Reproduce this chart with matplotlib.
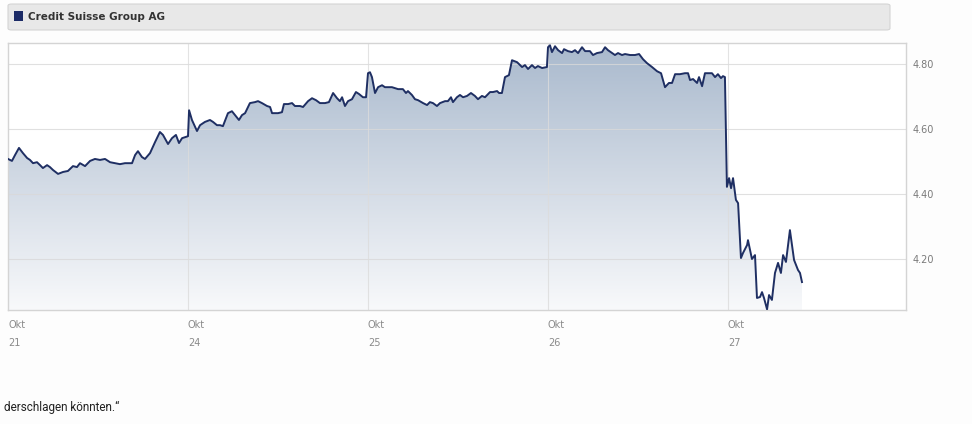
import numpy as np
import matplotlib.pyplot as plt
from matplotlib.patches import FancyBboxPatch, Rectangle, Polygon
from matplotlib.colors import LinearSegmentedColormap

# position in trading days (0 = 21 Okt open) and price in EUR
t = [0.000, 0.022, 0.039, 0.061, 0.083, 0.106, 0.122, 0.139, 0.161, 0.178,
     0.194, 0.217, 0.233, 0.250, 0.278, 0.306, 0.333, 0.361, 0.383, 0.400,
     0.428, 0.456, 0.483, 0.511, 0.539, 0.567, 0.594, 0.622, 0.650, 0.689,
     0.706, 0.722, 0.744, 0.761, 0.789, 0.817, 0.844, 0.861, 0.889, 0.911,
     0.933, 0.950, 0.967, 0.983, 1.000,
     1.006, 1.022, 1.050, 1.067, 1.094, 1.122, 1.139, 1.161, 1.178, 1.194,
     1.222, 1.244, 1.261, 1.283, 1.300, 1.317, 1.344, 1.372, 1.389, 1.411,
     1.439, 1.456, 1.467, 1.500, 1.522, 1.533, 1.556, 1.578, 1.594, 1.622,
     1.639, 1.667, 1.689, 1.711, 1.733, 1.761, 1.783, 1.806, 1.828, 1.844,
     1.856, 1.872, 1.889, 1.911, 1.933, 1.950, 1.972, 1.989, 2.000, 2.011,
     2.022, 2.039, 2.056, 2.078, 2.094, 2.111, 2.133, 2.150, 2.167, 2.194,
     2.211, 2.222, 2.244, 2.261, 2.278, 2.306, 2.328, 2.344, 2.361, 2.383,
     2.400, 2.428, 2.444, 2.461, 2.472, 2.494, 2.511, 2.528, 2.550, 2.572,
     2.594, 2.611, 2.633, 2.650, 2.678, 2.694, 2.717, 2.728, 2.744, 2.761,
     2.783, 2.800, 2.828, 2.856, 2.872, 2.889, 2.911, 2.928, 2.944, 2.967,
     2.994, 3.000,
     3.011, 3.022, 3.039, 3.056, 3.078, 3.089, 3.111, 3.133, 3.150, 3.167,
     3.189, 3.206, 3.233, 3.250, 3.272, 3.300, 3.317, 3.333, 3.356, 3.372,
     3.389, 3.411, 3.428, 3.456, 3.483, 3.506, 3.528, 3.550, 3.578, 3.606,
     3.628, 3.650, 3.672, 3.689, 3.706, 3.733, 3.761, 3.778, 3.789, 3.806,
     3.828, 3.839, 3.856, 3.872, 3.889, 3.911, 3.928, 3.944, 3.961, 3.972,
     3.983,
     3.994, 4.006, 4.017, 4.028, 4.033, 4.044, 4.056, 4.072, 4.083, 4.106,
     4.111, 4.133, 4.150, 4.161, 4.178, 4.189, 4.200, 4.217, 4.228, 4.244,
     4.261, 4.278, 4.294, 4.306, 4.322, 4.344, 4.367, 4.389, 4.400, 4.411]

price = [4.508, 4.502, 4.520, 4.542, 4.526, 4.511, 4.505, 4.495, 4.498, 4.489,
         4.480, 4.489, 4.483, 4.474, 4.462, 4.468, 4.471, 4.486, 4.483, 4.495,
         4.486, 4.502, 4.508, 4.505, 4.508, 4.498, 4.495, 4.492, 4.495, 4.495,
         4.520, 4.532, 4.514, 4.508, 4.526, 4.560, 4.591, 4.582, 4.554, 4.572,
         4.582, 4.557, 4.572, 4.575, 4.578,
         4.658, 4.628, 4.594, 4.612, 4.622, 4.628, 4.622, 4.612, 4.612, 4.609,
         4.649, 4.655, 4.643, 4.628, 4.643, 4.649, 4.680, 4.683, 4.686, 4.680,
         4.671, 4.668, 4.649, 4.649, 4.652, 4.677, 4.677, 4.680, 4.671, 4.671,
         4.668, 4.686, 4.695, 4.689, 4.680, 4.680, 4.683, 4.711, 4.695, 4.686,
         4.698, 4.671, 4.686, 4.692, 4.714, 4.708, 4.698, 4.698, 4.772, 4.775,
         4.760, 4.711, 4.729, 4.735, 4.729, 4.729, 4.729, 4.726, 4.723, 4.723,
         4.711, 4.717, 4.705, 4.692, 4.689, 4.680, 4.674, 4.683, 4.680, 4.671,
         4.680, 4.686, 4.686, 4.698, 4.683, 4.698, 4.705, 4.698, 4.702, 4.711,
         4.702, 4.692, 4.702, 4.698, 4.714, 4.714, 4.717, 4.711, 4.711, 4.760,
         4.766, 4.812, 4.806, 4.791, 4.797, 4.785, 4.797, 4.788, 4.794, 4.788,
         4.791, 4.852,
         4.858, 4.837, 4.855, 4.843, 4.834, 4.846, 4.840, 4.837, 4.843, 4.834,
         4.852, 4.840, 4.840, 4.828, 4.834, 4.837, 4.852, 4.843, 4.834, 4.828,
         4.834, 4.828, 4.831, 4.828, 4.828, 4.831, 4.815, 4.803, 4.791, 4.778,
         4.772, 4.729, 4.742, 4.742, 4.769, 4.769, 4.772, 4.772, 4.751, 4.754,
         4.742, 4.760, 4.732, 4.772, 4.772, 4.772, 4.760, 4.769, 4.757, 4.763,
         4.760,
         4.422, 4.449, 4.418, 4.449, 4.428, 4.382, 4.372, 4.203, 4.218, 4.243,
         4.258, 4.200, 4.212, 4.080, 4.083, 4.098, 4.080, 4.045, 4.089, 4.074,
         4.157, 4.188, 4.157, 4.212, 4.191, 4.289, 4.197, 4.166, 4.157, 4.129]

day_labels = ["21", "24", "25", "26", "27"]
month_label = "Okt"
y_ticks = [4.20, 4.40, 4.60, 4.80]
title = "Credit Suisse Group AG"
footer = "derschlagen könnten.\u201c"

W, H = 972, 424
fig = plt.figure(figsize=(W / 100, H / 100), dpi=100)
fig.patch.set_facecolor("#fdfdfd")

# header bar
hdr = FancyBboxPatch((8 / W, 1 - 30 / H), 882 / W, 26 / H,
                     boxstyle="round,pad=0,rounding_size=0.004",
                     transform=fig.transFigure, facecolor="#e8e8e8",
                     edgecolor="#d4d4d4", linewidth=0.8)
fig.patches.append(hdr)
fig.patches.append(Rectangle((14 / W, 1 - 21 / H), 9 / W, 10 / H,
                             transform=fig.transFigure, facecolor="#1b2a66",
                             edgecolor="none"))
fig.text(28 / W, 1 - 16.5 / H, title, fontsize=7.5, fontweight="bold",
         color="#333333", va="center", ha="left", family="DejaVu Sans")

ax = fig.add_axes([8 / W, 1 - 310 / H, 898 / W, 267 / H])
ax.set_facecolor("white")
x0, x1 = 0, 898 / 180
y0, y1 = 4.043, 4.865
ax.set_xlim(x0, x1)
ax.set_ylim(y0, y1)

# gradient fill under the line
grad = LinearSegmentedColormap.from_list("g", ["#f8f9fb", "#a9b9cd"])
img = ax.imshow(np.linspace(0, 1, 256).reshape(-1, 1), cmap=grad,
                extent=[x0, x1, y0, y1], origin="lower", aspect="auto",
                zorder=1)
poly = Polygon(np.column_stack([[t[0]] + t + [t[-1]],
                                [y0] + price + [y0]]),
               closed=True, facecolor="none", edgecolor="none")
ax.add_patch(poly)
img.set_clip_path(poly)

for y in y_ticks:
    ax.axhline(y, color="#d9d9d9", lw=0.8, zorder=2, alpha=0.8)
for d in range(1, 5):
    ax.axvline(d, color="#dcdcdc", lw=0.8, zorder=2, alpha=0.8)

ax.plot(t, price, color="#1f2f63", lw=1.4, zorder=3, solid_joinstyle="round")

for s in ax.spines.values():
    s.set_color("#d4d4d4")
    s.set_linewidth(1)

ax.yaxis.tick_right()
ax.set_yticks(y_ticks)
ax.set_yticklabels([f"{v:.2f}" for v in y_ticks])
ax.tick_params(axis="y", length=0, pad=5, labelsize=7, labelcolor="#7a7a7a")
ax.set_xticks([])

for i, lab in enumerate(day_labels):
    ax.text(i, -0.055, month_label, transform=ax.get_xaxis_transform(),
            ha="left", va="center", fontsize=7, color="#8a8a8a")
    ax.text(i, -0.125, lab, transform=ax.get_xaxis_transform(),
            ha="left", va="center", fontsize=7, color="#8a8a8a")

fig.text(4 / W, 1 - 407 / H, footer, fontsize=8.5, color="#222222",
         va="center", ha="left", family="Roboto")

fig.savefig("out.png", dpi=100, facecolor=fig.get_facecolor())
